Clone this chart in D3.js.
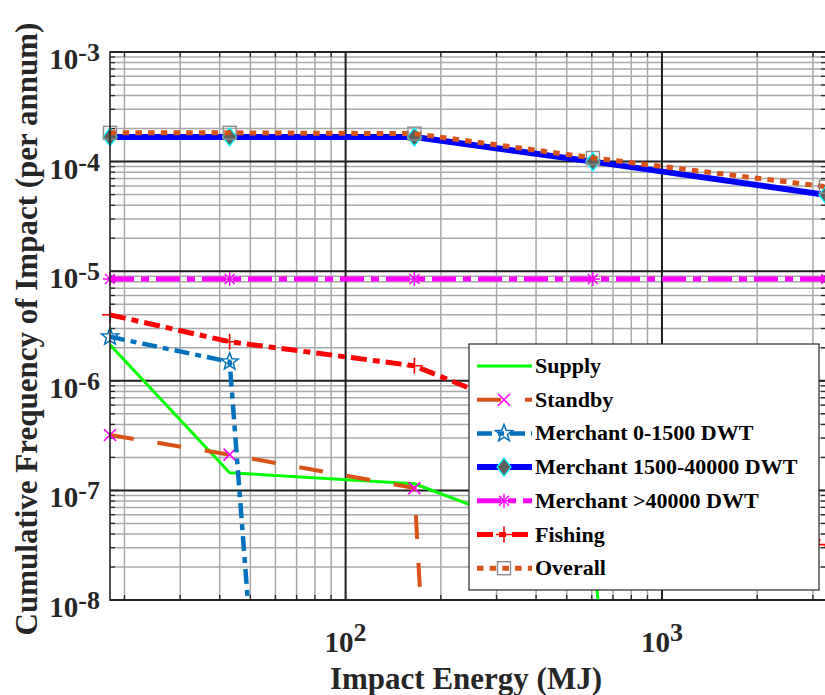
<!DOCTYPE html>
<html>
<head>
<meta charset="utf-8">
<script src="https://cdn.jsdelivr.net/npm/d3@7"></script>
<style>
  body { margin: 0; background: #fff; }
  svg { display: block; font-family: "Liberation Serif", "Times New Roman", serif; font-weight: bold; }
</style>
</head>
<body>
<svg width="825" height="695"></svg>
<script>
// impact energy (MJ) at which each cumulative frequency is read
const energy = [18, 43, 165, 605, 3300];
// cumulative frequency of impact (per annum) for each vessel class
const supply = [2.13e-6, 1.45e-7, 1.15e-7, 2.8e-8, 1e-28];
const standby = [3.2e-7, 2.12e-7, 1.05e-7, 1e-37, 1e-38];
const merchantSmall = [2.52e-6, 1.49e-6, 1e-28, 1e-30, 1e-30];
const merchantMid = [1.68e-4, 1.68e-4, 1.68e-4, 1.0e-4, 4.97e-5];
const merchantLarge = [8.5e-6, 8.5e-6, 8.5e-6, 8.5e-6, 8.5e-6];
const fishing = [4.0e-6, 2.27e-6, 1.37e-6, 3.0e-7, 3.2e-8];
const overall = [1.83e-4, 1.83e-4, 1.8e-4, 1.08e-4, 5.9e-5];
const seriesNames = ["Supply", "Standby", "Merchant 0-1500 DWT", "Merchant 1500-40000 DWT",
  "Merchant >40000 DWT", "Fishing", "Overall"];
const xTickExp = [2, 3];
const yTickExp = [-8, -7, -6, -5, -4, -3];

const svg = d3.select("svg");
const pLeft = 110, pRight = 826, pTop = 52, pBottom = 600;

const x = d3.scaleLog().domain([18, 3300]).range([pLeft, pRight]);
const y = d3.scaleLog().domain([1e-8, 1e-3]).range([pBottom, pTop]);

// styles for each series, in drawing order
const series = [
  { name: seriesNames[0], values: supply, color: "#00ff00", width: 3, dash: null, marker: null },
  { name: seriesNames[1], values: standby, color: "#d95319", width: 4, dash: "24,24", marker: "x" },
  { name: seriesNames[2], values: merchantSmall, color: "#0072bd", width: 4.5, dash: "15,6,6,6", marker: "star" },
  { name: seriesNames[3], values: merchantMid, color: "#0000ff", width: 6, dash: null, marker: "diamond" },
  { name: seriesNames[4], values: merchantLarge, color: "#ff00ff", width: 5, dash: "24,7,8,7", marker: "asterisk" },
  { name: seriesNames[5], values: fishing, color: "#ff0000", width: 5, dash: "16,6,7,6", marker: "plus" },
  { name: seriesNames[6], values: overall, color: "#d95319", width: 5, dash: "6.5,6.2", marker: "square" }
];

svg.append("defs").append("clipPath").attr("id", "clip")
  .append("rect").attr("x", pLeft).attr("y", pTop)
  .attr("width", pRight - pLeft).attr("height", pBottom - pTop);

// grid
const isMajor = (v) => Math.abs(Math.log10(v) - Math.round(Math.log10(v))) < 1e-6;
const grid = svg.append("g");
const xt = x.ticks();
const yt = y.ticks();
grid.selectAll(".vminor").data(xt.filter((d) => !isMajor(d))).enter().append("line")
  .attr("x1", (d) => x(d)).attr("x2", (d) => x(d)).attr("y1", pTop).attr("y2", pBottom)
  .attr("stroke", "#a8a8a8").attr("stroke-width", 1.5);
grid.selectAll(".hminor").data(yt.filter((d) => !isMajor(d))).enter().append("line")
  .attr("y1", (d) => y(d)).attr("y2", (d) => y(d)).attr("x1", pLeft).attr("x2", pRight)
  .attr("stroke", "#a8a8a8").attr("stroke-width", 1.5);
grid.selectAll(".vmajor").data(xt.filter(isMajor)).enter().append("line")
  .attr("x1", (d) => x(d)).attr("x2", (d) => x(d)).attr("y1", pTop).attr("y2", pBottom)
  .attr("stroke", "#1e1e1e").attr("stroke-width", 2);
grid.selectAll(".hmajor").data(yt.filter(isMajor)).enter().append("line")
  .attr("y1", (d) => y(d)).attr("y2", (d) => y(d)).attr("x1", pLeft).attr("x2", pRight)
  .attr("stroke", "#1e1e1e").attr("stroke-width", 2);

// inward ticks on all four sides
const tickLen = (d) => (isMajor(d) ? 9 : 5);
const tickG = svg.append("g").attr("stroke", "#262626").attr("stroke-width", 1.3);
xt.forEach((d) => {
  tickG.append("line").attr("x1", x(d)).attr("x2", x(d)).attr("y1", pBottom).attr("y2", pBottom - tickLen(d));
  tickG.append("line").attr("x1", x(d)).attr("x2", x(d)).attr("y1", pTop).attr("y2", pTop + tickLen(d));
});
yt.forEach((d) => {
  tickG.append("line").attr("y1", y(d)).attr("y2", y(d)).attr("x1", pLeft).attr("x2", pLeft + tickLen(d));
  tickG.append("line").attr("y1", y(d)).attr("y2", y(d)).attr("x1", pRight).attr("x2", pRight - tickLen(d));
});

// tick labels with superscript exponents
xTickExp.forEach((e) => {
  const t = svg.append("text").attr("x", x(Math.pow(10, e))).attr("y", pBottom + 52)
    .attr("text-anchor", "middle").attr("font-size", 29).attr("fill", "#262626");
  t.append("tspan").text("10");
  t.append("tspan").attr("dy", -11).attr("font-size", 26).text(e);
});
yTickExp.forEach((e) => {
  const t = svg.append("text").attr("x", 100).attr("y", y(Math.pow(10, e)) + 17)
    .attr("text-anchor", "end").attr("font-size", 29).attr("fill", "#262626");
  t.append("tspan").text("10");
  t.append("tspan").attr("dy", -8).attr("font-size", 26).text("-" + Math.abs(e));
});

// axis labels
svg.append("text").attr("x", (pLeft + pRight) / 2 - 2).attr("y", 689)
  .attr("text-anchor", "middle").attr("font-size", 31).attr("fill", "#262626")
  .text("Impact Energy (MJ)");
svg.append("text").attr("transform", "translate(37," + ((pTop + pBottom) / 2 + 3) + ") rotate(-90)")
  .attr("text-anchor", "middle").attr("font-size", 31).attr("fill", "#262626")
  .text("Cumulative Frequency of Impact (per annum)");

// marker drawing
function drawMarker(g, type, cx, cy) {
  const m = g.append("g").attr("transform", "translate(" + cx + "," + cy + ")");
  if (type === "x") {
    m.append("path").attr("d", "M-6,-6L6,6M-6,6L6,-6")
      .attr("stroke", "#ff00ff").attr("stroke-width", 1.6).attr("fill", "none");
  } else if (type === "plus") {
    m.append("path").attr("d", "M-8,0L8,0M0,-8L0,8")
      .attr("stroke", "#ff0000").attr("stroke-width", 1.6).attr("fill", "none");
  } else if (type === "asterisk") {
    m.append("path").attr("d", "M-7,0L7,0M0,-7L0,7M-5,-5L5,5M-5,5L5,-5")
      .attr("stroke", "#ff00ff").attr("stroke-width", 1.4).attr("fill", "none");
  } else if (type === "diamond") {
    m.append("path").attr("d", "M0,-9L7,0L0,9L-7,0Z")
      .attr("fill", "#606060").attr("stroke", "#00ffff").attr("stroke-width", 1.3);
  } else if (type === "square") {
    m.append("rect").attr("x", -6.5).attr("y", -6.5).attr("width", 13).attr("height", 13)
      .attr("fill", "none").attr("stroke", "#8c8c8c").attr("stroke-width", 1.4);
  } else if (type === "star") {
    const pts = d3.range(10).map((i) => {
      const r = i % 2 === 0 ? 9 : 3.8;
      const a = -Math.PI / 2 + (i * Math.PI) / 5;
      return [r * Math.cos(a), r * Math.sin(a)];
    });
    m.append("path").attr("d", "M" + pts.join("L") + "Z")
      .attr("fill", "none").attr("stroke", "#0072bd").attr("stroke-width", 1.5);
  }
}

// series lines and markers
const plot = svg.append("g");
const line = d3.line().x((d) => x(d[0])).y((d) => y(d[1]));
series.forEach((s) => {
  const pts = energy.map((e, i) => [e, s.values[i]]);
  plot.append("path").datum(pts).attr("clip-path", "url(#clip)")
    .attr("d", line).attr("fill", "none")
    .attr("stroke", s.color).attr("stroke-width", s.width)
    .attr("stroke-dasharray", s.dash)
    .attr("stroke-linejoin", "round");
  if (s.marker) {
    pts.filter((p) => p[1] >= 1e-8 && p[1] <= 1e-3).forEach((p) => drawMarker(plot, s.marker, x(p[0]), y(p[1])));
  }
});

// axes box
svg.append("rect").attr("x", pLeft).attr("y", pTop).attr("width", pRight - pLeft).attr("height", pBottom - pTop)
  .attr("fill", "none").attr("stroke", "#262626").attr("stroke-width", 1.6);

// legend
const lg = svg.append("g");
lg.append("rect").attr("x", 469).attr("y", 344).attr("width", 350).attr("height", 246)
  .attr("fill", "#fff").attr("stroke", "#262626").attr("stroke-width", 1.2);
series.forEach((s, i) => {
  const cy = 366 + i * 33.7;
  lg.append("line").attr("x1", 477).attr("x2", 532).attr("y1", cy).attr("y2", cy)
    .attr("stroke", s.color).attr("stroke-width", s.width).attr("stroke-dasharray", s.dash);
  if (s.marker) drawMarker(lg, s.marker, 504, cy);
  lg.append("text").attr("x", 535).attr("y", cy + 7).attr("font-size", 22).attr("fill", "#000")
    .text(s.name);
});
</script>
</body>
</html>
